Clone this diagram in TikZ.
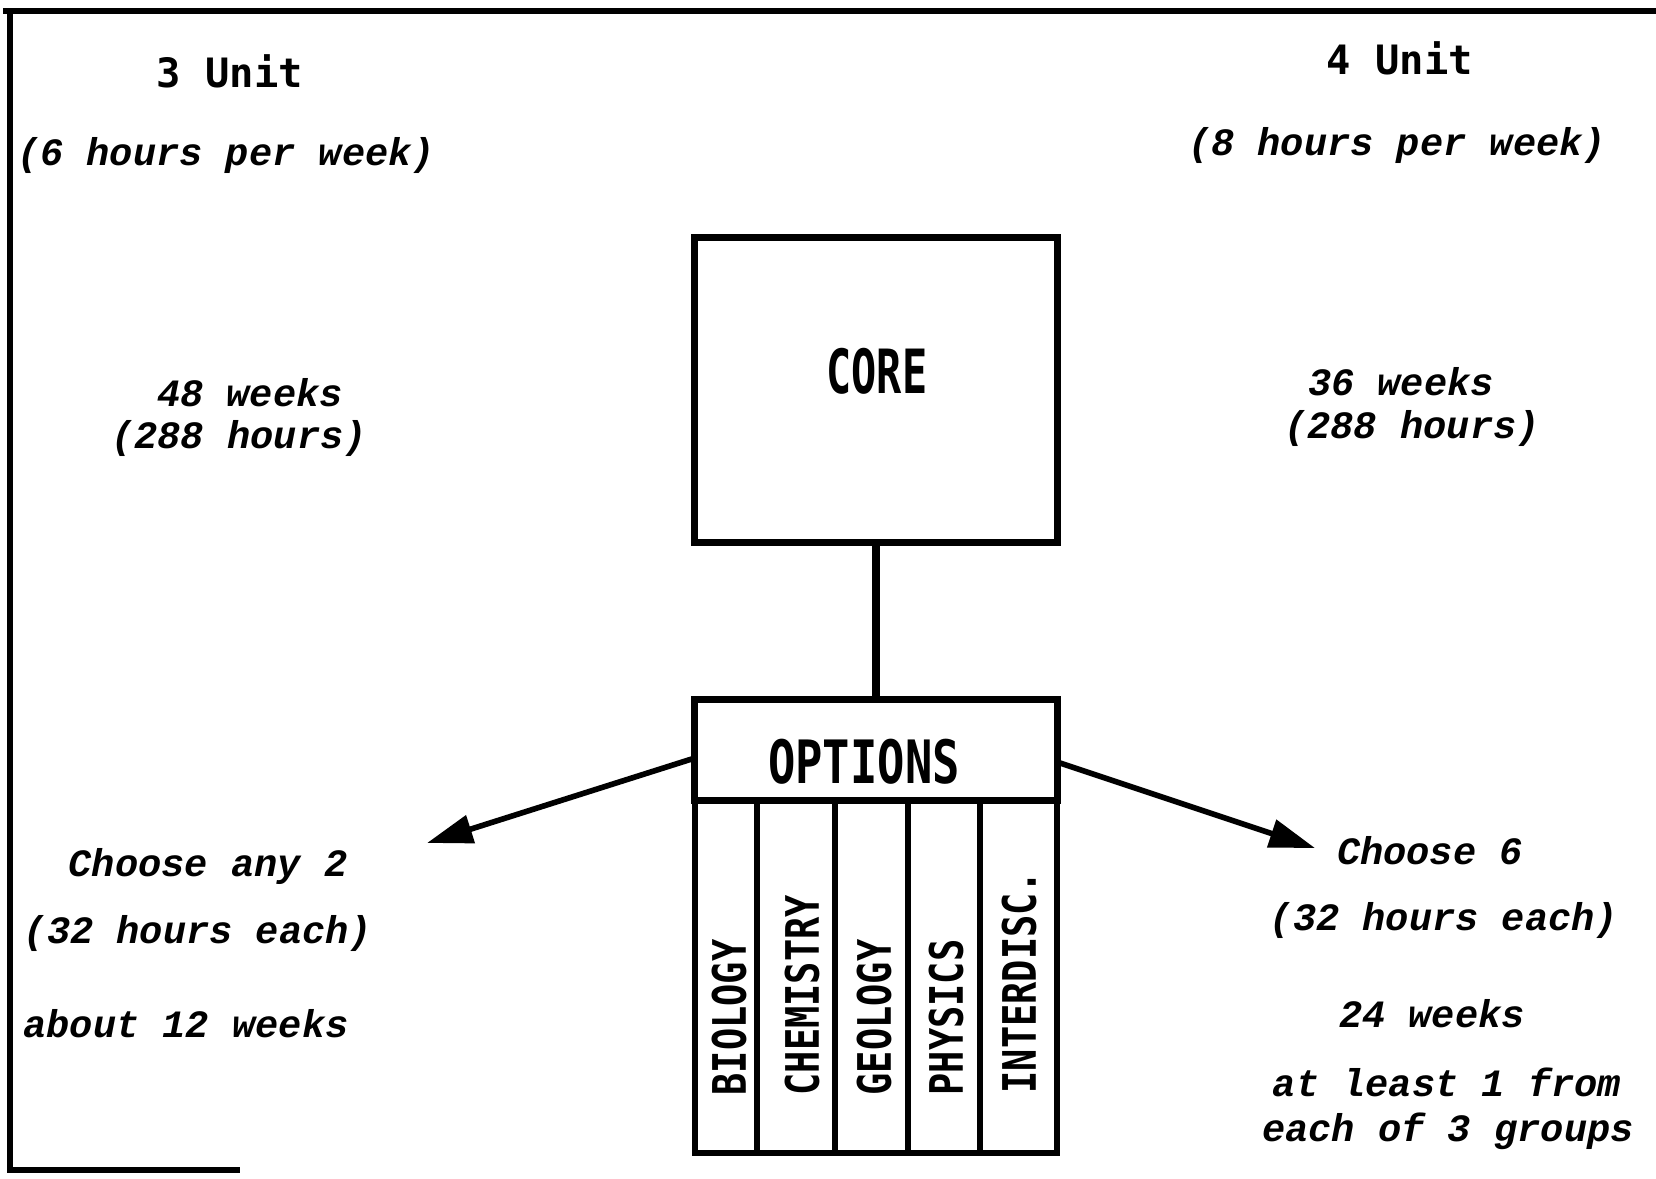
\documentclass[tikz,border=0pt]{standalone}
\usepackage{fontspec}
\usepackage{graphicx}
\usetikzlibrary{arrows.meta}
\newfontfamily\typefont{Liberation Mono}
\newfontfamily\gothfont{DejaVu Sans Mono}

\begin{document}
\begin{tikzpicture}[x=0.01cm, y=-0.01cm,
  heading/.style={font=\gothfont\bfseries\fontsize{11.5}{13}\selectfont, inner sep=0pt},
  note/.style={font=\typefont\bfseries\itshape\fontsize{11}{13}\selectfont, inner sep=0pt},
  title/.style={font=\gothfont\bfseries\fontsize{17}{19}\selectfont, inner sep=0pt},
  boxed/.style={rectangle, draw, line width=2pt, inner sep=0pt, outer sep=0pt},
  colbox/.style={rectangle, draw, line width=1.7pt, minimum height=3.53cm, inner sep=0pt, outer sep=0pt},
  subject/.style={font=\gothfont\bfseries\fontsize{12.5}{14}\selectfont, rotate=90, anchor=west, inner sep=0pt},
  link/.style={line width=2pt},
  arr/.style={-{Triangle[length=13pt, width=8pt]}, line width=1.6pt},
  frame/.style={line width=1.5pt}
]
\useasboundingbox (0,0) rectangle (1656,1179);

% open frame round the sheet
\draw[frame] (3,11) -- (1656,11);
\draw[frame] (10,11) -- (10,1170) -- (240,1170);

% core block
\node[boxed, minimum width=3.62cm, minimum height=3.04cm] (core) at (876,390) {};
\node[title] (corelbl) at (877,371) {\scalebox{0.7}[1.02]{CORE}};

% options block with its five columns
\node[boxed, minimum width=3.62cm, minimum height=1.0cm] (opthead) at (876,750) {};
\node[title] (optlbl) at (864,762) {\scalebox{0.76}[1]{OPTIONS}};
\node[colbox, minimum width=0.62cm] (bio) at (726,976.5) {};
\node[colbox, minimum width=0.78cm] (chem) at (796,976.5) {};
\node[colbox, minimum width=0.73cm] (geo) at (871.5,976.5) {};
\node[colbox, minimum width=0.72cm] (phys) at (944,976.5) {};
\node[colbox, minimum width=0.77cm] (inter) at (1018.5,976.5) {};

\node[subject] (biolbl) at (729,1096) {\scalebox{0.84}[1.05]{BIOLOGY}};
\node[subject] (chemlbl) at (802,1096) {\scalebox{0.84}[1.05]{CHEMISTRY}};
\node[subject] (geolbl) at (874,1096) {\scalebox{0.84}[1.05]{GEOLOGY}};
\node[subject] (physlbl) at (946,1096) {\scalebox{0.84}[1.05]{PHYSICS}};
\node[subject] (interlbl) at (1019,1094) {\scalebox{0.84}[1.05]{INTERDISC.}};

\draw[link] (core.south) -- (opthead.north);

% left side: 3 unit course
\node[heading] (unitL) at (230,71) {3 Unit};
\node[note] (rateL) at (226,156) {(6 hours per week)};
\node[note] (lenL) at (250,393) {48 weeks};
\node[note] (totL) at (239,439) {(288 hours)};
\node[note] (pickL) at (208,866) {Choose any 2};
\node[note] (eachL) at (198,934) {(32 hours each)};
\node[note] (spanL) at (186,1024) {about 12 weeks};

% right side: 4 unit course
\node[heading] (unitR) at (1400,58) {4 Unit};
\node[note] (rateR) at (1397,146) {(8 hours per week)};
\node[note] (lenR) at (1401,382) {36 weeks};
\node[note] (totR) at (1412,429) {(288 hours)};
\node[note] (pickR) at (1430,851) {Choose 6};
\node[note] (eachR) at (1444,921) {(32 hours each)};
\node[note] (spanR) at (1432,1014) {24 weeks};
\node[note] (ruleR) at (1447,1082) {at least 1 from};
\node[note] (ruleRb) at (1448,1131) {each of 3 groups};

\coordinate (tipL) at (427,843);
\coordinate (tipR) at (1315,848);
\draw[arr] ([yshift=-0.08cm]opthead.west) -- (tipL);
\draw[arr] ([yshift=-0.12cm]opthead.east) -- (tipR);
\end{tikzpicture}
\end{document}
